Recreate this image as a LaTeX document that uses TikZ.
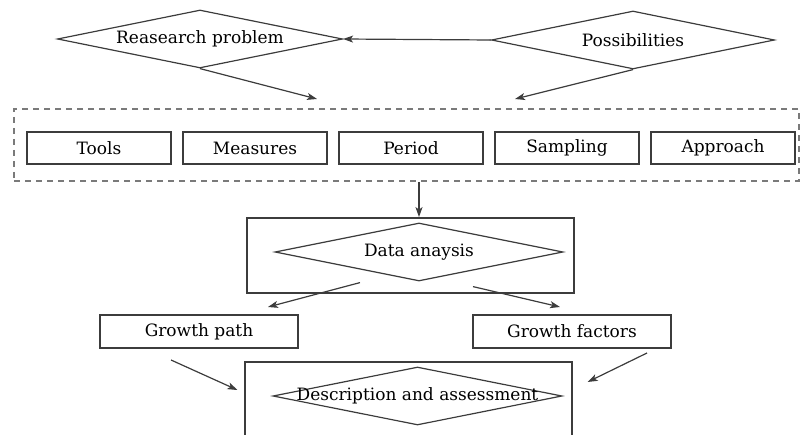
\documentclass[tikz,border=0pt]{standalone}
\usepackage{fontspec}
\setmainfont{DejaVu Serif}
\usetikzlibrary{shapes.geometric, arrows, arrows.meta, positioning}
\definecolor{linegray}{HTML}{3C3C3C}
\definecolor{dashgray}{HTML}{7A7A7A}
\tikzstyle{dia} = [diamond, draw=linegray, line width=1.2pt, inner sep=0pt, shape aspect=5, minimum width=285pt, minimum height=58pt]
\tikzstyle{box} = [rectangle, draw=linegray, line width=1.5pt, inner sep=0pt, outer sep=0pt, minimum width=144pt, minimum height=32pt]
\tikzstyle{frame} = [rectangle, draw=linegray, line width=1.8pt, inner sep=0pt]
\tikzstyle{arrow} = [line width=1.2pt, draw=linegray, ->, >={Stealth[length=10pt,width=7pt,inset=2.5pt]}]

\begin{document}
\begin{tikzpicture}[x=1pt, y=-1pt, font=\fontsize{17}{20}\selectfont]

    \clip (0,0) rectangle (800,435);

    % Top diamonds
    \node (research) [dia] at (200,39) {Reasearch problem};
    \node (possib) [dia, minimum width=283pt] at (633,40) {Possibilities};

    % Dashed group with the five boxes
    \node (group) [draw=dashgray, dashed, dash pattern=on 6pt off 5pt, line width=2pt, minimum width=785pt, minimum height=72pt] at (406.5,145) {};
    \node (tools) [box] at (99,148) {Tools};
    \node (measures) [box, right=12pt of tools] {Measures};
    \node (period) [box, right=12pt of measures] {Period};
    \node (sampling) [box, right=12pt of period] {Sampling};
    \node (approach) [box, right=12pt of sampling] {Approach};

    % Data analysis block
    \node (databox) [frame, minimum width=327pt, minimum height=75pt] at (410.5,255.5) {};
    \node (datadia) [dia, minimum width=288pt] at (419,252) {Data anaysis};

    % Results
    \node (gpath) [box, minimum width=198pt, minimum height=33pt] at (199,331.5) {Growth path};
    \node (gfact) [box, minimum width=198pt, minimum height=33pt] at (572,331.5) {Growth factors};

    % Description block (runs off the bottom)
    \node (descbox) [frame, minimum width=327pt, minimum height=100pt] at (408.5,412) {};
    \node (descdia) [dia, minimum width=289pt, label=center:{Description and assessment}] at (417.5,396) {};

    \draw [arrow] (possib.west) -- (research.east);
    \draw [arrow] (research.south) -- ([xshift=-89.5pt,yshift=9pt]group.north);
    \draw [arrow] (possib.south) -- ([xshift=108.5pt,yshift=9pt]group.north);
    \draw [arrow] (group.south -| datadia.north) -- (databox.north -| datadia.north);
    \draw [arrow] ([xshift=-59pt,yshift=-1pt]datadia.south) -- ([xshift=69pt,yshift=8pt]gpath.north);
    \draw [arrow] ([xshift=54pt,yshift=-5pt]datadia.south) -- ([xshift=-12pt,yshift=8pt]gfact.north);
    \draw [arrow] ([xshift=-28pt,yshift=-12pt]gpath.south) -- ([xshift=-35pt,yshift=6pt]descdia.west);
    \draw [arrow] ([xshift=75pt,yshift=-5pt]gfact.south) -- ([xshift=25pt,yshift=14pt]descdia.east);

\end{tikzpicture}
\end{document}
